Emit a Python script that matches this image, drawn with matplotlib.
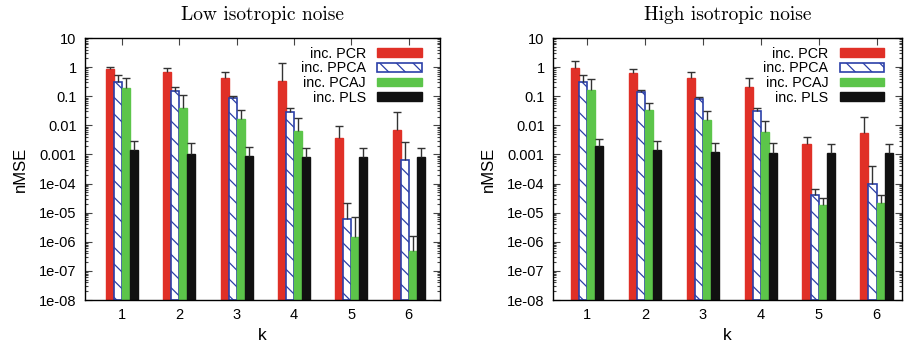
import matplotlib
matplotlib.use("Agg")
import matplotlib.pyplot as plt
import numpy as np
from matplotlib.ticker import FixedLocator, FixedFormatter, LogLocator, NullFormatter

k = [1, 2, 3, 4, 5, 6]
methods = ["inc. PCR", "inc. PPCA", "inc. PCAJ", "inc. PLS"]

# Low isotropic noise: values and upper error-bar ends
low_pcr = [0.86, 0.66, 0.43, 0.33, 0.0038, 0.0069]
low_pcr_up = [1.0, 0.9, 0.7, 1.4, 0.0095, 0.028]
low_ppca = [0.31, 0.15, 0.085, 0.028, 5.9e-6, 6.5e-4]
low_ppca_up = [0.54, 0.21, 0.104, 0.04, 2.1e-5, 2.6e-3]
low_pcaj = [0.19, 0.04, 0.016, 0.0066, 1.5e-6, 4.8e-7]
low_pcaj_up = [0.43, 0.11, 0.033, 0.018, 7.2e-6, 1.6e-6]
low_pls = [0.0014, 0.00105, 0.0009, 0.0008, 0.0008, 0.0008]
low_pls_up = [0.0028, 0.0024, 0.0018, 0.0017, 0.0017, 0.0017]

# High isotropic noise
high_pcr = [0.9, 0.62, 0.43, 0.2, 0.0023, 0.0056]
high_pcr_up = [1.6, 0.86, 0.7, 0.43, 0.0041, 0.019]
high_ppca = [0.3, 0.135, 0.08, 0.03, 4.1e-5, 1.0e-4]
high_ppca_up = [0.54, 0.17, 0.096, 0.038, 6.5e-5, 4.0e-4]
high_pcaj = [0.16, 0.034, 0.015, 0.006, 1.8e-5, 2.1e-5]
high_pcaj_up = [0.38, 0.057, 0.032, 0.014, 3.1e-5, 4.1e-5]
high_pls = [0.0019, 0.0014, 0.0012, 0.0011, 0.0011, 0.0011]
high_pls_up = [0.0033, 0.003, 0.0024, 0.0024, 0.0023, 0.0023]

ytick_vals = [10, 1, 0.1, 0.01, 0.001, 1e-4, 1e-5, 1e-6, 1e-7, 1e-8]
ytick_labels = ["10", "1", "0.1", "0.01", "0.001", "1e-04", "1e-05", "1e-06", "1e-07", "1e-08"]

RED = "#e03027"
BLUE = "#2b3fa8"
GREEN = "#5cc54a"
BLACK = "#111111"
ERR = "#333333"

plt.rcParams['font.family'] = ['Liberation Sans', 'DejaVu Sans']
plt.rcParams['hatch.linewidth'] = 0.9
plt.rcParams['hatch.color'] = BLUE

fig = plt.figure(figsize=(9.10, 3.49), dpi=100)
ax1 = fig.add_axes([85/910, 1-300/349, 355/910, 262/349])
ax2 = fig.add_axes([553/910, 1-300/349, 349/910, 262/349])

W = 0.14

def panel(ax, title, series, xlim):
    x = np.array(k, dtype=float)
    styles = [
        dict(color=RED, edgecolor=RED),
        dict(facecolor="white", edgecolor=BLUE, hatch="\\\\", linewidth=1.2),
        dict(color=GREEN, edgecolor=GREEN),
        dict(color=BLACK, edgecolor=BLACK),
    ]
    offs = [-1.5, -0.5, 0.5, 1.5]
    for (vals, ups), st, off, lab in zip(series, styles, offs, methods):
        xs = x + off * W
        ax.bar(xs, vals, width=W, bottom=1e-8, label=lab, zorder=2, **st)
        ax.vlines(xs, vals, ups, color=ERR, linewidth=1.0, zorder=3)
        ax.plot(xs, ups, linestyle="none", marker="_", markersize=6,
                markeredgewidth=1.0, color=ERR, zorder=3)
    ax.set_yscale("log")
    ax.set_ylim(1e-8, 10)
    ax.set_xlim(*xlim)
    ax.yaxis.set_major_locator(FixedLocator(ytick_vals))
    ax.yaxis.set_major_formatter(FixedFormatter(ytick_labels))
    ax.yaxis.set_minor_locator(LogLocator(base=10, subs=np.arange(2, 10), numticks=20))
    ax.yaxis.set_minor_formatter(NullFormatter())
    ax.set_xticks(k)
    ax.set_xticklabels([str(v) for v in k])
    ax.tick_params(axis="both", which="both", direction="in", top=True, right=True,
                   labelsize=10.5, pad=6, width=0.8, color="#444444")
    ax.tick_params(axis="both", which="major", length=5)
    ax.tick_params(axis="y", which="minor", length=2.5)
    ax.set_axisbelow(True)
    for s in ax.spines.values():
        s.set_linewidth(1.0)
        s.set_zorder(4)
    ax.set_ylabel("nMSE", fontsize=12, labelpad=8)
    ax.set_xlabel("k", fontsize=12.5, labelpad=4)
    ax.set_title(title, fontsize=14, family="cmr10", pad=13)
    ax.legend(loc="upper right", frameon=False, markerfirst=False,
              fontsize=10.3, handlelength=3.1, handleheight=0.55,
              labelspacing=0.05, handletextpad=0.8, borderaxespad=0.2,
              bbox_to_anchor=(0.973, 1.0))

panel(ax1, "Low isotropic noise",
      [(low_pcr, low_pcr_up), (low_ppca, low_ppca_up), (low_pcaj, low_pcaj_up), (low_pls, low_pls_up)],
      (0.356, 6.545))
panel(ax2, "High isotropic noise",
      [(high_pcr, high_pcr_up), (high_ppca, high_ppca_up), (high_pcaj, high_pcaj_up), (high_pls, high_pls_up)],
      (0.41, 6.44))

fig.savefig("out.png", dpi=100)
